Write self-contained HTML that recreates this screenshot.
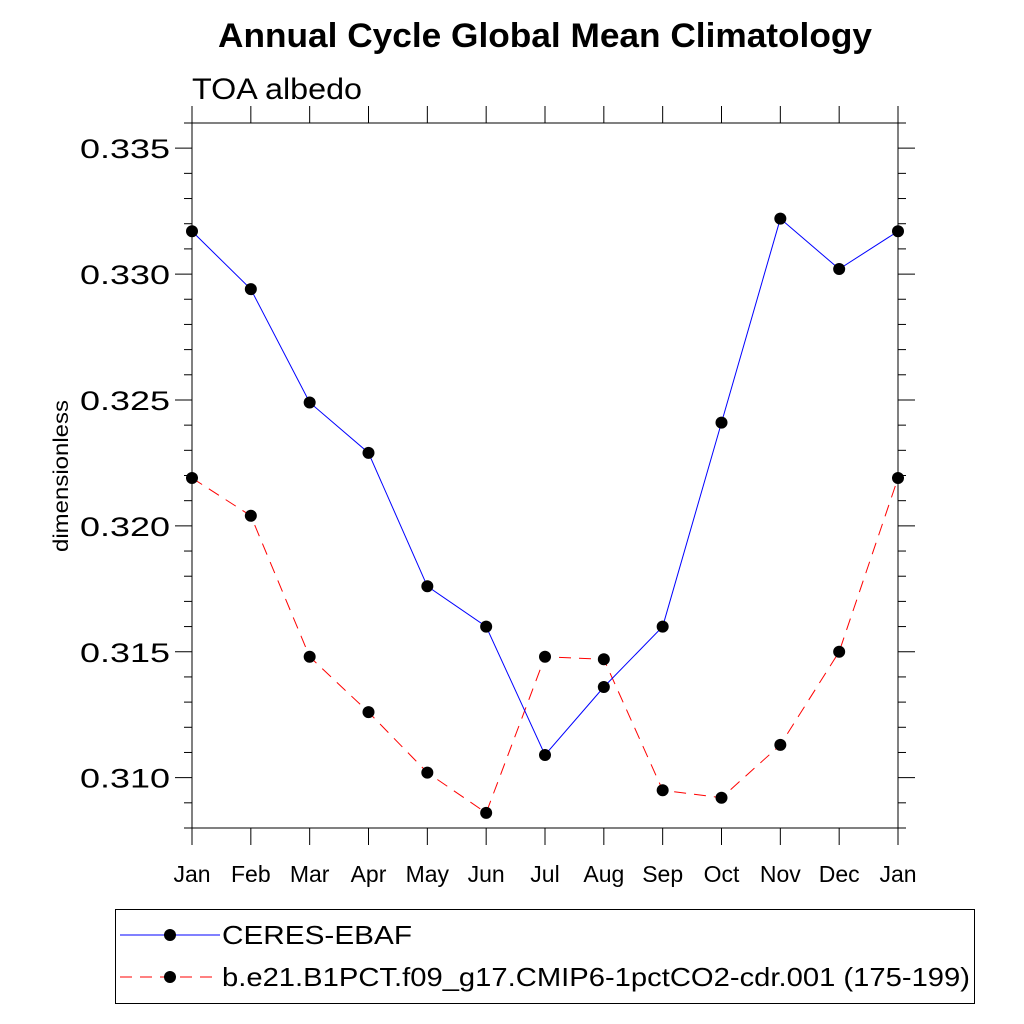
<!DOCTYPE html>
<html><head><meta charset="utf-8"><style>
html,body{margin:0;padding:0;background:#fff;}
svg{display:block;font-family:"Liberation Sans",sans-serif;}
</style></head><body>
<svg id="chart" width="1024" height="1024" viewBox="0 0 1024 1024">
<text x="218" y="47" textLength="654" lengthAdjust="spacingAndGlyphs" font-size="34" font-weight="bold">Annual Cycle Global Mean Climatology</text>
<text x="192" y="99" textLength="170" lengthAdjust="spacingAndGlyphs" font-size="30">TOA albedo</text>
<text transform="translate(68,476) rotate(-90)" x="-76" textLength="152" lengthAdjust="spacingAndGlyphs" font-size="21">dimensionless</text>
<g id="axes"></g>
<g id="series"></g>
<g>
<rect x="115.5" y="909.5" width="859" height="94" fill="none" stroke="#000" stroke-width="1"/>
<g>
<line x1="120" y1="935" x2="220" y2="935" stroke="#0000ff" stroke-width="1"/>
<circle cx="170" cy="935" r="6" fill="#000"/>
<text x="222" y="944" textLength="190" lengthAdjust="spacingAndGlyphs" font-size="26">CERES-EBAF</text></g>
<g>
<line x1="120" y1="977" x2="220" y2="977" stroke="#ff0000" stroke-width="1" stroke-dasharray="12,8"/>
<circle cx="170" cy="977" r="6" fill="#000"/>
<text x="222" y="986" textLength="748" lengthAdjust="spacingAndGlyphs" font-size="26">b.e21.B1PCT.f09_g17.CMIP6-1pctCO2-cdr.001 (175-199)</text></g>
</g>
</svg>
<script>
const months=["Jan","Feb","Mar","Apr","May","Jun","Jul","Aug","Sep","Oct","Nov","Dec","Jan"];
const ceres=[0.3317,0.3294,0.3249,0.3229,0.3176,0.3160,0.3109,0.3136,0.3160,0.3241,0.3322,0.3302,0.3317];
const model=[0.3219,0.3204,0.3148,0.3126,0.3102,0.3086,0.3148,0.3147,0.3095,0.3092,0.3113,0.3150,0.3219];
const yTicks=[0.310,0.315,0.320,0.325,0.330,0.335];
const yTickLabels=["0.310","0.315","0.320","0.325","0.330","0.335"];
const L=192,R=898,T=123,B=828,YMIN=0.308,YMAX=0.336;
const NS="http://www.w3.org/2000/svg";
function xs(i){return L+(R-L)*i/(months.length-1);}
function ys(v){return B-(v-YMIN)/(YMAX-YMIN)*(B-T);}
function mk(tag,attrs,parent){const e=document.createElementNS(NS,tag);for(const k in attrs)e.setAttribute(k,attrs[k]);parent.appendChild(e);return e;}
const ax=document.getElementById('axes');
const frame=mk('rect',{x:L,y:T,width:R-L,height:B-T,fill:'none',stroke:'#000','stroke-width':1},ax);


for(let k=0;k<=28;k++){const v=YMIN+k*0.001;const y=ys(v);const major=(Math.round(v*1000)%5===0);const len=major?17:8;
mk('line',{x1:L-len,y1:y,x2:L,y2:y,stroke:'#000','stroke-width':1},ax);
mk('line',{x1:R,y1:y,x2:R+len,y2:y,stroke:'#000','stroke-width':1},ax);}
yTicks.forEach((v,i)=>{const t=mk('text',{x:80,y:ys(v)+10,textLength:90,lengthAdjust:'spacingAndGlyphs','font-size':27},ax);t.textContent=yTickLabels[i];

});
months.forEach((m,i)=>{const x=xs(i);
mk('line',{x1:x,y1:B,x2:x,y2:B+17,stroke:'#000','stroke-width':1},ax);
mk('line',{x1:x,y1:T-17,x2:x,y2:T,stroke:'#000','stroke-width':1},ax);
const t=mk('text',{x:x,y:882,'text-anchor':'middle','font-size':23},ax);t.textContent=m;

});
const sg=document.getElementById('series');
function draw(vals,color,dash,name){
const pts=vals.map((v,i)=>xs(i)+','+ys(v)).join(' ');
const pl=mk('polyline',{points:pts,fill:'none',stroke:color,'stroke-width':1},sg);
if(dash)pl.setAttribute('stroke-dasharray',dash);


vals.forEach((v,i)=>{const c=mk('circle',{cx:xs(i),cy:ys(v),r:6,fill:'#000'},sg);

});}
draw(model,'#ff0000','12,8','model');
draw(ceres,'#0000ff',null,'ceres');
</script>
</body></html>
